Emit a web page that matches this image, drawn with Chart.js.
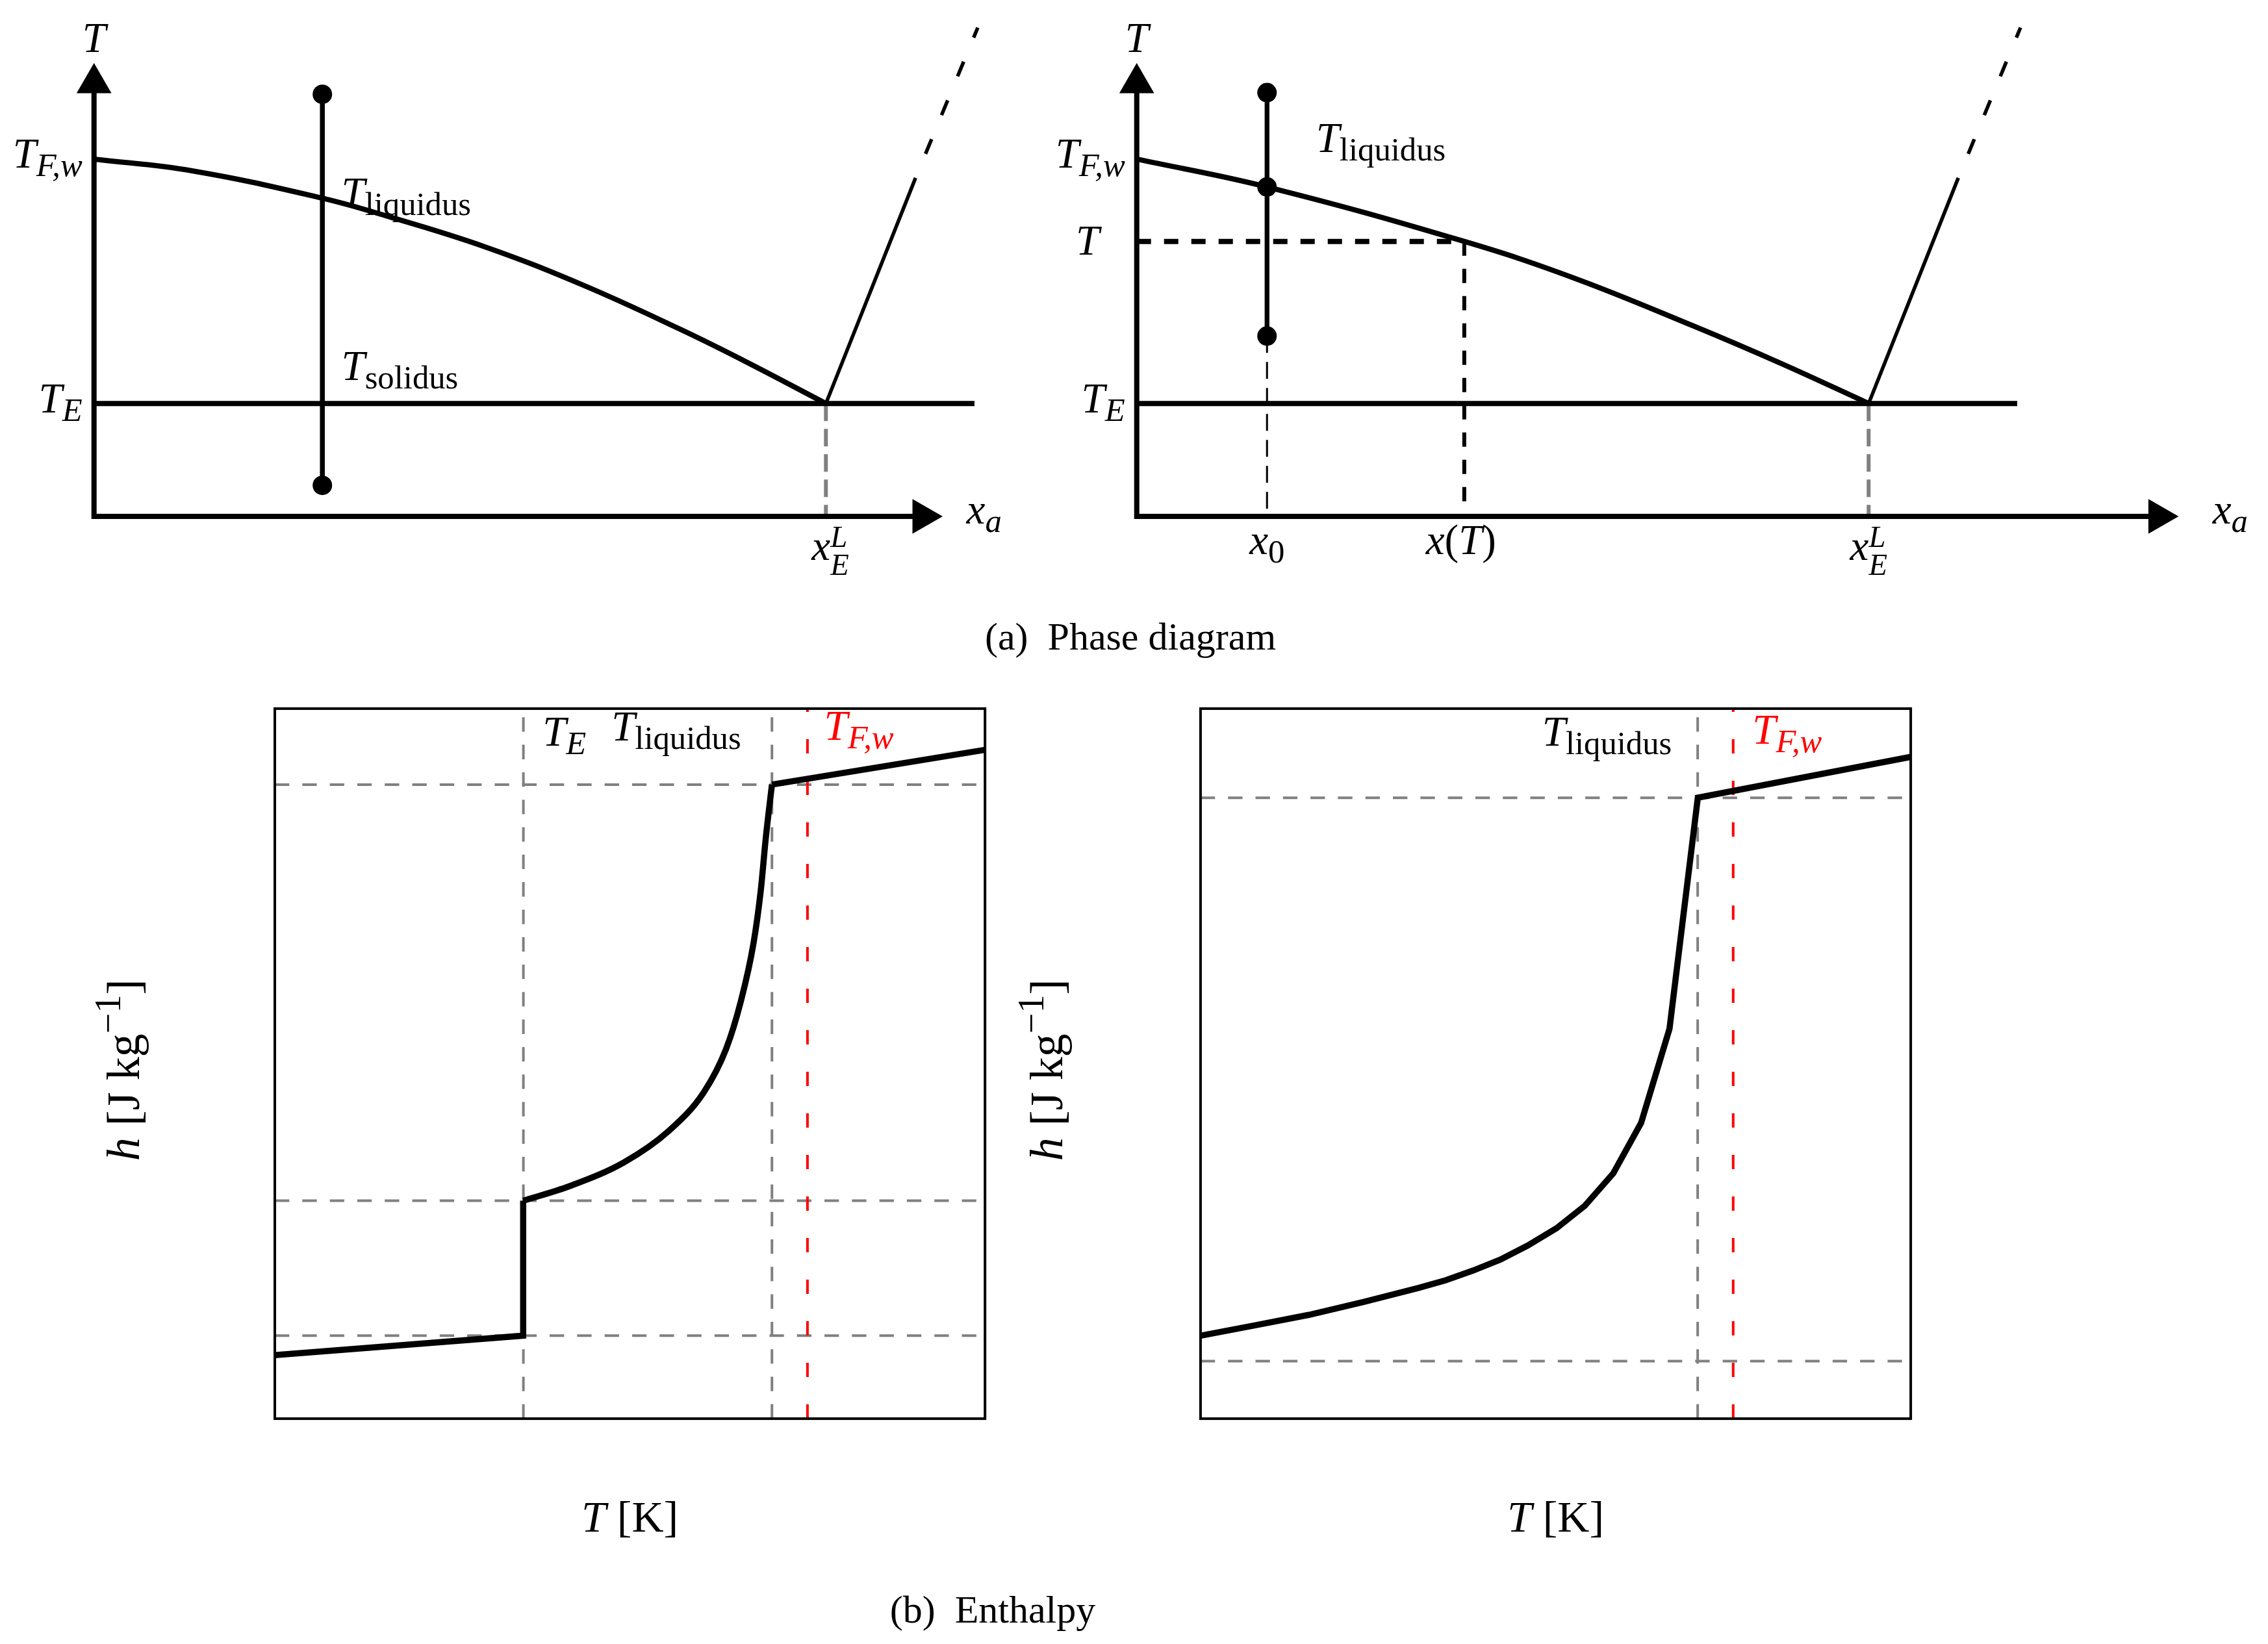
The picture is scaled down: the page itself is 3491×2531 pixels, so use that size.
<!DOCTYPE html>
<html>
<head>
<meta charset="utf-8">
<script src="https://cdn.jsdelivr.net/npm/chart.js"></script>
<style>
  html, body { margin: 0; padding: 0; background: #fff; }
  body { position: relative; width: 3491px; height: 2531px; overflow: hidden; }
  canvas { position: absolute; }
  .cap { position: absolute; width: 1000px; text-align: center; font-family: "Liberation Serif", serif;
         font-size: 60px; line-height: 60px; color: #000; white-space: pre; }
</style>
</head>
<body>
<canvas id="phase-left"></canvas>
<canvas id="phase-right"></canvas>
<div class="cap" id="cap-a">(a)&ensp;Phase diagram</div>
<canvas id="enth-left"></canvas>
<canvas id="enth-right"></canvas>
<div class="cap" id="cap-b">(b)&ensp;Enthalpy</div>
<script>
// ---- (a) phase diagram: composition scaled so x_E^L = 1, temperature so T_E = 0, T_F,w = 1
const liqLeftX  = [0, 0.134, 0.312, 0.401, 0.534, 0.666, 0.800, 0.888, 1.0];
const liqLeftT  = [1, 0.952, 0.840, 0.766, 0.641, 0.487, 0.305, 0.175, 0];
const liqRightX = [0, 0.178, 0.4475, 0.596, 0.760, 0.881, 1.0];
const liqRightT = [1, 0.886, 0.663, 0.515, 0.318, 0.163, 0];
const solvusX = [1, 1.1225, 1.2075];
const solvusT = [0, 0.923, 1.538];
const eutecticEnd = 1.203;
const axisOriginT = -0.462, axisEndT = 1.30, arrowT = 1.311;
const axisEndLeft = 1.12, arrowLeft = 1.132;
const axisEndRight = 1.385, arrowRight = 1.396;
const compLeft = 0.312, dotsLeftT = [1.265, -0.335];
const compRight = 0.178, dotsRightT = [1.272, 0.886, 0.276];
const xOfT = 0.4475, tLevel = 0.663;

// ---- (b) enthalpy, both axes in percent of the plotted box
const hLeftT = [0, 34.97, 34.97, 41.47, 49.19, 55.48, 60.39, 63.54, 65.64, 67.41, 68.43, 69.14, 70.0, 100];
const hLeftH = [8.96, 11.69, 30.69, 32.73, 36.11, 40.53, 45.95, 52.06, 58.86, 67.0, 74.44, 81.87, 89.3, 94.2];
const hRightT = [0, 7.56, 15.26, 22.97, 30.67, 34.52, 38.37, 42.22, 46.07, 50.13, 54.13, 58.12, 62.04, 66.03, 70.02, 100];
const hRightH = [11.69, 13.12, 14.62, 16.44, 18.41, 19.49, 20.86, 22.40, 24.38, 26.82, 30.0, 34.56, 41.67, 54.9, 87.45, 93.2];
const refLeftT = [35, 70], refLeftH = [89.3, 30.7, 11.7];
const refRightT = [70], refRightH = [87.45, 8.1];
const tFw = 75;

const S = 3491 / 1568; // layout below measured on a 1568 px wide view
const FONT = '"Liberation Serif", "DejaVu Serif", serif';
const GRAY = '#808080';
const SUB = 0.78;

const pts = (xs, ys) => xs.map((x, i) => ({ x, y: ys[i] }));

function line(data, width, color, dash, extra) {
  return Object.assign({
    data, showLine: true, borderColor: color, borderWidth: width, borderDash: dash || [],
    pointRadius: 0, fill: false, clip: false, tension: 0
  }, extra || {});
}
function dots(data, r) {
  return { data, showLine: false, pointRadius: r, pointStyle: 'circle',
           pointBackgroundColor: '#000', pointBorderWidth: 0, clip: false };
}
function arrow(x, y, rot) {
  return { data: [{ x, y }], showLine: false, pointStyle: 'triangle', pointRotation: rot,
           pointRadius: 31, pointBackgroundColor: '#000', pointBorderWidth: 0, clip: false };
}

// small math-text renderer: [text, style] with i = italic, b = subscript, p = superscript
function setFont(ctx, it, size) { ctx.font = (it ? 'italic ' : '') + size + 'px ' + FONT; }
function drawMath(ctx, parts, size, align, color) {
  const runs = []; let w = 0;
  for (const p of parts) {
    if (!Array.isArray(p)) {
      const s = size * 0.72;
      setFont(ctx, true, s);
      runs.push({ t: p.sub, it: true, s, x: w, dy: size * 0.36 });
      runs.push({ t: p.sup, it: true, s, x: w, dy: -size * 0.3 });
      w += Math.max(ctx.measureText(p.sub).width, ctx.measureText(p.sup).width);
      continue;
    }
    const [t, st] = p;
    const it = st.includes('i');
    const small = st.includes('b') || st.includes('p');
    const s = small ? size * SUB : size;
    const dy = st.includes('b') ? size * 0.2 : (st.includes('p') ? -size * 0.4 : 0);
    setFont(ctx, it, s);
    runs.push({ t, it, s, x: w, dy });
    w += ctx.measureText(t).width;
  }
  const x0 = align === 'right' ? -w : (align === 'center' ? -w / 2 : 0);
  ctx.fillStyle = color;
  ctx.textAlign = 'left';
  ctx.textBaseline = 'alphabetic';
  for (const r of runs) { setFont(ctx, r.it, r.s); ctx.fillText(r.t, x0 + r.x, r.dy); }
}
function labelPlugin(items) {
  return {
    id: 'mathLabels',
    afterDraw(chart) {
      const ctx = chart.ctx;
      for (const l of items) {
        ctx.save();
        ctx.translate(chart.scales.x.getPixelForValue(l.x), chart.scales.y.getPixelForValue(l.y));
        if (l.rot) ctx.rotate(l.rot);
        drawMath(ctx, l.p, l.size || 65, l.a || 'left', l.color || '#000');
        ctx.restore();
      }
    }
  };
}
const framePlugin = {
  id: 'frame',
  afterDatasetsDraw(chart) {
    const { ctx, chartArea: a } = chart;
    ctx.save();
    ctx.strokeStyle = '#000';
    ctx.lineWidth = 4;
    ctx.strokeRect(a.left, a.top, a.width, a.height);
    ctx.restore();
  }
};

function place(id, left, top, width, height) {
  const c = document.getElementById(id);
  c.width = Math.round(width); c.height = Math.round(height);
  c.style.left = Math.round(left) + 'px'; c.style.top = Math.round(top) + 'px';
  c.style.width = c.width + 'px'; c.style.height = c.height + 'px';
  return c.getContext('2d');
}
function options(xmin, xmax, ymin, ymax, padding) {
  return {
    responsive: false, animation: false, devicePixelRatio: 1, events: [],
    layout: { padding },
    plugins: { legend: { display: false }, tooltip: { enabled: false } },
    scales: {
      x: { type: 'linear', min: xmin, max: xmax, display: false },
      y: { type: 'linear', min: ymin, max: ymax, display: false }
    }
  };
}

// ---------- (a) phase diagrams ----------
const topH = 420 * S, unitX = 506 * S;
const phasePad = (canvasW, xmax) => ({ left: 65 * S, top: 17 * S, right: Math.round(canvasW) - 65 * S - xmax * unitX,
                                       bottom: Math.round(topH) - 358.4 * S });

function phaseCommon(liqX, liqT, axisEnd, arrowX) {
  return [
    arrow(arrowX, axisOriginT, 90),
    arrow(0, arrowT, 0),
    line(pts(liqX, liqT), 8, '#000', null, { tension: 0.4 }),
    line(pts(solvusX.slice(0, 2), solvusT.slice(0, 2)), 5.5, '#000'),
    line(pts(solvusX.slice(1), solvusT.slice(1)), 5.5, '#000', [11 * S, 18 * S], { borderDashOffset: 11 * S }),
    line(pts([0, eutecticEnd], [0, 0]), 8, '#000'),
    line(pts([axisEnd, 0, 0], [axisOriginT, axisOriginT, axisEndT]), 8, '#000'),
    line(pts([1, 1], [0, axisOriginT]), 6, GRAY, [27, 12])
  ];
}

const plW = 720 * S;
new Chart(place('phase-left', 0, 0, plW, topH), {
  type: 'scatter',
  data: {
    datasets: [
      dots(pts([compLeft, compLeft], dotsLeftT), 15),
      line(pts([compLeft, compLeft], dotsLeftT), 7.5, '#000'),
      ...phaseCommon(liqLeftX, liqLeftT, axisEndLeft, arrowLeft)
    ]
  },
  options: options(0, 1.21, -0.4698, 1.5503, phasePad(plW, 1.21)),
  plugins: [labelPlugin([
    { p: [['T', 'i']], x: 0, y: 1.438, a: 'center' },
    { p: [['T', 'i'], ['F,w', 'ib']], x: -0.016, y: 0.966, a: 'right' },
    { p: [['T', 'i'], ['E', 'ib']], x: -0.016, y: -0.036, a: 'right' },
    { p: [['T', 'i'], ['liquidus', 'b']], x: 0.338, y: 0.805 },
    { p: [['T', 'i'], ['solidus', 'b']], x: 0.338, y: 0.095 },
    { p: [['x', 'i'], { sub: 'E', sup: 'L' }], x: 1.006, y: -0.639, a: 'center' },
    { p: [['x', 'i'], ['a', 'ib']], x: 1.192, y: -0.491 }
  ])]
});

const prLeft = Math.round(721 * S), prW = 3491 - prLeft;
new Chart(place('phase-right', prLeft, 0, prW, topH), {
  type: 'scatter',
  data: {
    datasets: [
      dots(pts([compRight, compRight, compRight], dotsRightT), 15),
      line(pts([compRight, compRight], [dotsRightT[0], dotsRightT[2]]), 7.3, '#000'),
      line(pts([0, xOfT], [tLevel, tLevel]), 8, '#000', [22, 20]),
      line(pts([xOfT, xOfT], [tLevel, axisOriginT]), 6, '#000', [22, 20]),
      line(pts([compRight, compRight], [dotsRightT[2], axisOriginT]), 3, '#000', [26, 14]),
      ...phaseCommon(liqRightX, liqRightT, axisEndRight, arrowRight)
    ]
  },
  options: options(0, 1.45, -0.4698, 1.5503, phasePad(prW, 1.45)),
  plugins: [labelPlugin([
    { p: [['T', 'i']], x: 0, y: 1.438, a: 'center' },
    { p: [['T', 'i'], ['F,w', 'ib']], x: -0.016, y: 0.966, a: 'right' },
    { p: [['T', 'i']], x: -0.051, y: 0.609, a: 'right' },
    { p: [['T', 'i'], ['E', 'ib']], x: -0.016, y: -0.036, a: 'right' },
    { p: [['T', 'i'], ['liquidus', 'b']], x: 0.245, y: 1.03 },
    { p: [['x', 'i'], ['0', 'b']], x: compRight, y: -0.615, a: 'center' },
    { p: [['x', 'i'], ['(', 'r'], ['T', 'i'], [')', 'r']], x: 0.443, y: -0.615, a: 'center' },
    { p: [['x', 'i'], { sub: 'E', sup: 'L' }], x: 1.0, y: -0.639, a: 'center' },
    { p: [['x', 'i'], ['a', 'ib']], x: 1.470, y: -0.491 }
  ])]
});

// ---------- (b) enthalpy panels ----------
const ebTop = Math.round(470 * S), ebW = Math.round(680 * S), ebH = Math.round(620 * S), box = 491 * S;
function enthPad(boxLeft, canvasLeft) {
  const left = boxLeft * S - Math.round(canvasLeft), top = 490 * S - ebTop;
  return { left, top, right: ebW - left - box, bottom: ebH - top - box };
}
const hLabel = [['h', 'i'], [' [J kg', 'r'], ['\u22121', 'p'], [']', 'r']];
const tLabel = [['T', 'i'], [' [K]', 'r']];

function refLines(vt, vh) {
  return [
    line(pts([tFw, tFw], [0, 100]), 4, '#ff0000', [22, 42]),
    ...vt.map(t => line(pts([t, t], [0, 100]), 4, GRAY, [22.3, 20])),
    ...vh.map(h => line(pts([0, 100], [h, h]), 4, GRAY, [22.3, 20]))
  ];
}

const elLeft = 40 * S;
new Chart(place('enth-left', elLeft, ebTop, ebW, ebH), {
  type: 'scatter',
  data: {
    datasets: [
      line(pts(hLeftT.slice(0, 3), hLeftH.slice(0, 3)), 9.5, '#000'),
      line(pts(hLeftT.slice(2, 13), hLeftH.slice(2, 13)), 9.5, '#000', null, { cubicInterpolationMode: 'monotone' }),
      line(pts(hLeftT.slice(12), hLeftH.slice(12)), 9.5, '#000'),
      ...refLines(refLeftT, refLeftH)
    ]
  },
  options: options(0, 100, 0, 100, enthPad(190, elLeft)),
  plugins: [framePlugin, labelPlugin([
    { p: [['T', 'i'], ['E', 'ib']], x: 37.7, y: 94.8 },
    { p: [['T', 'i'], ['liquidus', 'b']], x: 47.4, y: 95.5 },
    { p: [['T', 'i'], ['F,w', 'ib']], x: 77.35, y: 95.6, color: '#ff0000' },
    { p: tLabel, x: 50, y: -15.9, a: 'center', size: 68 },
    { p: hLabel, x: -19.1, y: 49.1, a: 'center', size: 72, rot: -Math.PI / 2 }
  ])]
});

const erLeft = 680 * S;
new Chart(place('enth-right', erLeft, ebTop, ebW, ebH), {
  type: 'scatter',
  data: {
    datasets: [
      line(pts(hRightT, hRightH), 9.5, '#000'),
      ...refLines(refRightT, refRightH)
    ]
  },
  options: options(0, 100, 0, 100, enthPad(830, erLeft)),
  plugins: [framePlugin, labelPlugin([
    { p: [['T', 'i'], ['liquidus', 'b']], x: 48.1, y: 94.8 },
    { p: [['T', 'i'], ['F,w', 'ib']], x: 77.7, y: 95.1, color: '#ff0000' },
    { p: tLabel, x: 50, y: -15.9, a: 'center', size: 68 },
    { p: hLabel, x: -19.5, y: 49.1, a: 'center', size: 72, rot: -Math.PI / 2 }
  ])]
});

// captions
const capA = document.getElementById('cap-a');
capA.style.left = (1740 - 500) + 'px'; capA.style.top = '950px';
const capB = document.getElementById('cap-b');
capB.style.left = (1528 - 500) + 'px'; capB.style.top = '2448px';
</script>
</body>
</html>
